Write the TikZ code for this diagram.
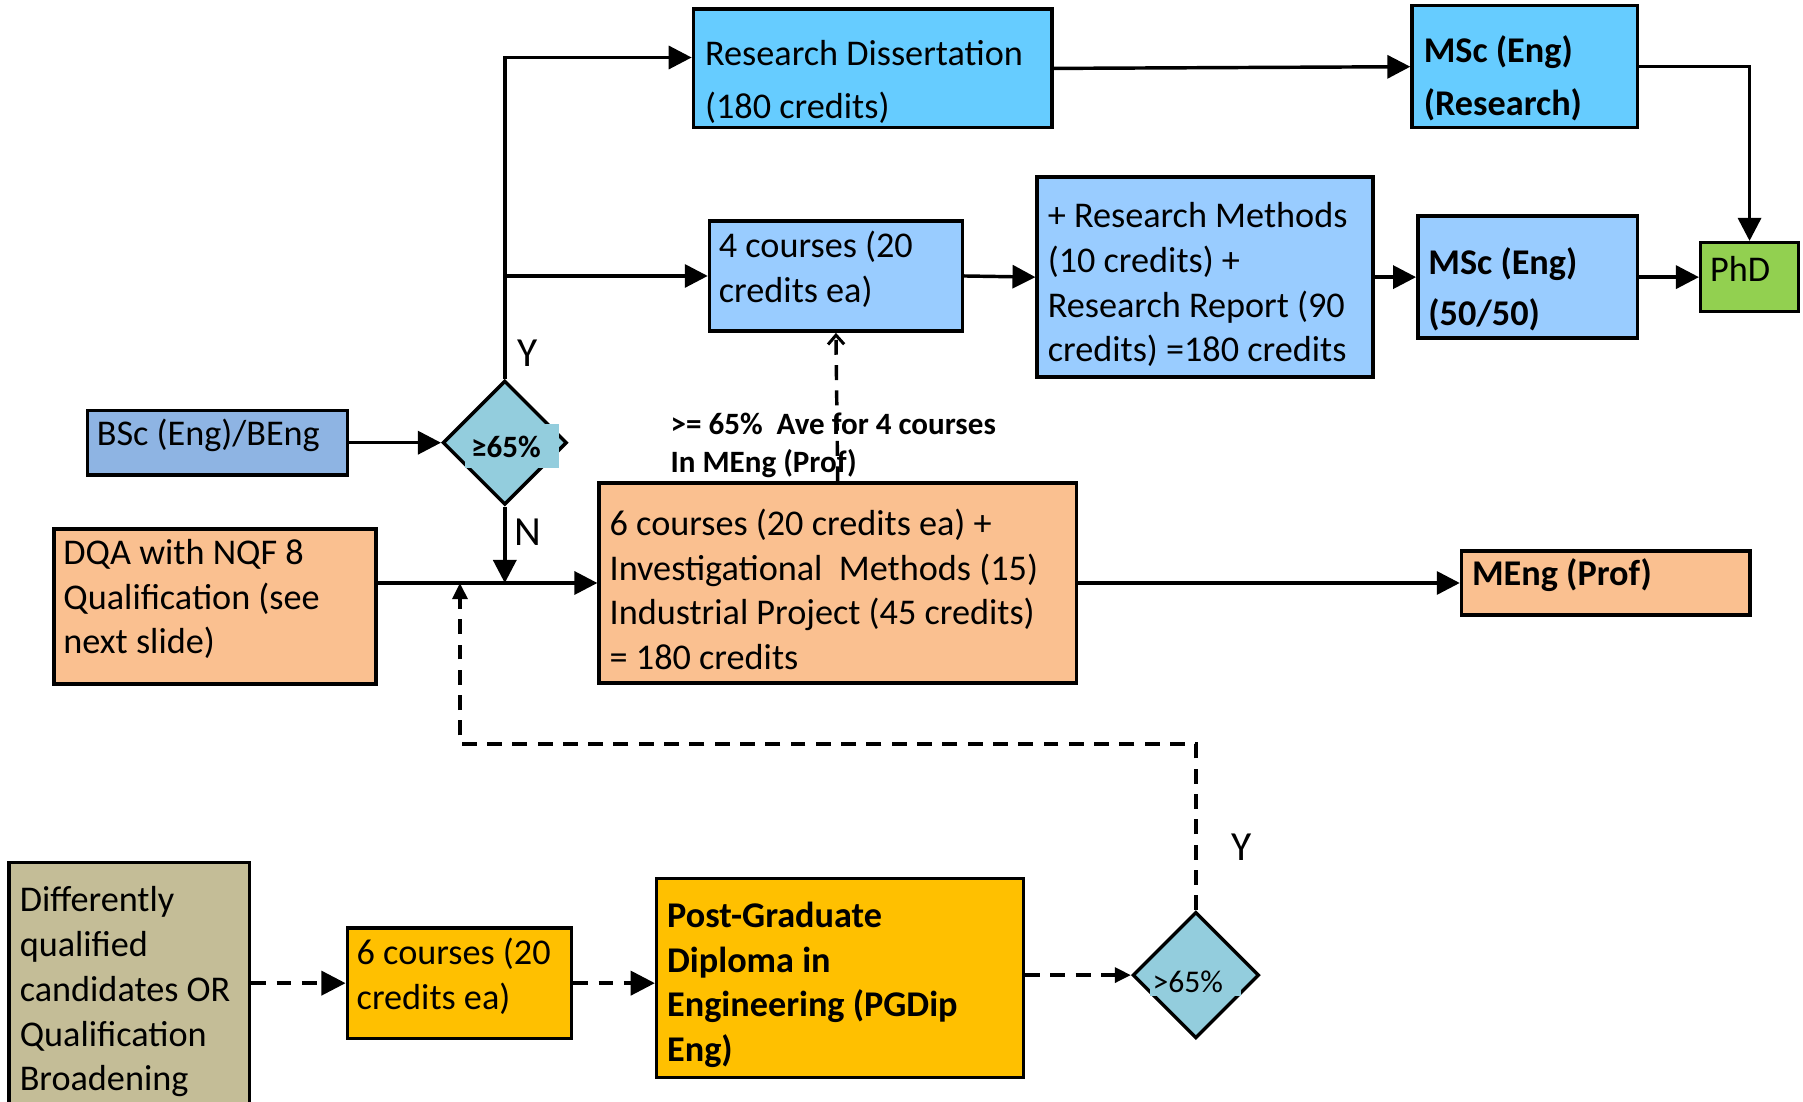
\documentclass[tikz,border=0pt]{standalone}
\usepackage{fontspec}
\setmainfont{Carlito}
\usetikzlibrary{arrows.meta,shapes.geometric,calc}
\definecolor{rdblue}{HTML}{66CCFF}
\definecolor{lblue}{HTML}{99CCFF}
\definecolor{bscblue}{HTML}{8EB4E3}
\definecolor{dia}{HTML}{93CDDD}
\definecolor{peach}{HTML}{FAC090}
\definecolor{phdgreen}{HTML}{92D050}
\definecolor{tan}{HTML}{C4BD97}
\definecolor{gold}{HTML}{FFC000}
\begin{document}
\begin{tikzpicture}[x=1pt,y=-1pt,
  box/.style={draw=black,line width=3pt,rectangle,inner sep=0pt},
  dbox/.style={draw=black,line width=3pt,diamond,inner sep=0pt,shape aspect=1,fill=dia},
  txt/.style={anchor=west,align=left,inner sep=0pt,font=\fontsize{31.5}{39}\selectfont},
  txtw/.style={txt,font=\fontsize{31.5}{46}\selectfont},
  btxt/.style={txt,font=\fontsize{31.5}{46}\selectfont\bfseries},
  yn/.style={inner sep=0pt,font=\fontsize{36}{40}\selectfont},
  conn/.style={line width=3pt},
  arr/.style={conn,-{Triangle[length=20pt,width=20pt]}},
  darr/.style={conn,dash pattern=on 13pt off 9pt,-{Triangle[length=21pt,width=21pt]}},
  dsarr/.style={conn,dash pattern=on 13pt off 9pt,-{Triangle[length=14pt,width=13pt]}},
  dvarr/.style={conn,dash pattern=on 13pt off 9pt,-{Straight Barb[length=8pt,width=14pt,line width=2.6pt]}}
]
\clip (0,0) rectangle (1568,958);
\fill[white] (0,0) rectangle (1568,958);

% boxes
\node[box,fill=rdblue,minimum width=312pt,minimum height=103pt] (rd) at (759,59.5) {};
\node[box,fill=rdblue,minimum width=196pt,minimum height=106pt] (mscr) at (1326,58) {};
\node[box,fill=lblue,minimum width=220pt,minimum height=96pt] (c4) at (727,240) {};
\node[box,fill=lblue,minimum width=292pt,minimum height=174pt] (rm) at (1048,241) {};
\node[box,fill=lblue,minimum width=191pt,minimum height=106pt] (msc50) at (1328.5,241) {};
\node[box,fill=phdgreen,minimum width=85pt,minimum height=60pt] (phd) at (1521.5,241) {};
\node[box,fill=bscblue,minimum width=226pt,minimum height=56pt] (bsc) at (189,385) {};
\node[dbox,minimum width=108pt,minimum height=108pt] (d1) at (439,385) {};
\node[box,fill=peach,minimum width=280pt,minimum height=135pt] (dqa) at (187,527.5) {};
\node[box,fill=peach,minimum width=415pt,minimum height=174pt] (c6) at (728.5,507) {};
\node[box,fill=peach,minimum width=251pt,minimum height=56pt] (meng) at (1396.5,507) {};
\node[box,fill=tan,minimum width=209pt,minimum height=225pt] (diff) at (112.5,862.5) {};
\node[box,fill=gold,minimum width=195pt,minimum height=96pt] (s6) at (399.5,855) {};
\node[box,fill=gold,minimum width=319pt,minimum height=173pt] (pg) at (730.5,850.5) {};
\node[dbox,minimum width=110pt,minimum height=110pt] (d2) at (1040,848) {};

% texts
\node[txtw] (rdt) at (613,71) {Research Dissertation\\(180 credits)};
\node[btxt] (mscrt) at (1238,68) {MSc (Eng)\\(Research)};
\node[txt] (c4t) at (625,234.5) {4 courses (20\\credits ea)};
\node[txt] (rmt) at (911,247.5) {+ Research Methods\\(10 credits) +\\Research Report (90\\credits) =180 credits};
\node[btxt,font=\fontsize{31.5}{45}\selectfont\bfseries] (msc50t) at (1242,251.5) {MSc (Eng)\\(50/50)};
\node[txt] (phdt) at (1487,234) {PhD};
\node[txt] (bsct) at (84,379) {BSc (Eng)/BEng};
\node[txt] (dqat) at (55,521) {DQA with NQF 8\\Qualification (see\\next slide)};
\node[txt] (c6t) at (530,512.5) {6 courses (20 credits ea) +\\Investigational~ Methods (15)\\Industrial Project (45 credits)\\= 180 credits};
\node[txt,font=\fontsize{31.5}{39}\selectfont\bfseries] (mengt) at (1280,500) {MEng (Prof)};
\node[txt] (difft) at (17,862.5) {Differently\\qualified\\candidates OR\\Qualification\\Broadening};
\node[txt] (s6t) at (310,849) {6 courses (20\\credits ea)};
\node[txt,font=\fontsize{31.5}{39}\selectfont\bfseries] (pgt) at (580,856.5) {Post-Graduate\\Diploma in\\Engineering (PGDip\\Eng)};

% diamond labels (text boxes filled with the diamond colour)
\fill[dia] (404,369) rectangle (486,407);
\node[inner sep=0pt,font=\fontsize{27}{30}\selectfont\bfseries] (d1t) at (440,389) {≥65\%};
\fill[dia] (1000,841) rectangle (1079,866);
\node[inner sep=0pt,font=\fontsize{27.5}{30}\selectfont] (d2t) at (1033,854) {>65\%};

% Y / N labels
\node[yn] (ylab) at (459,307) {Y};
\node[yn] (nlab) at (459,463) {N};
\node[yn] (ylab2) at (1080,737) {Y};

% connectors
\draw[arr] (bsc.east) -- (d1.west);
\draw[arr] (d1.north) |- ([yshift=9.5pt]rd.west);
\draw[arr] (d1.north |- c4.west) -- (c4.west);
\draw[arr] (c4.east) -- (rm.west);
\draw[arr] (rm.east) -- (msc50.west);
\draw[arr] (msc50.east) -- (phd.west);
\draw[arr] (rd.east) -- (mscr.west);
\draw[arr] (mscr.east) -| (phd.north);
\coordinate (nj) at (d1.south |- c6.west);
\draw[arr] (d1.south) -- (nj);
\draw[arr] (dqa.east |- c6.west) -- (c6.west);
\draw[arr] (c6.east) -- (meng.west);
\draw[dvarr] (c6.north) -- (c4.south);
\coordinate (m1) at (400,507);
\draw[dsarr] (d2.north) |- (400,647) -- (m1);
\draw[darr] (diff.east |- s6.west) -- (s6.west);
\draw[darr] (s6.east) -- (pg.west |- s6.east);
\draw[dsarr] (pg.east |- d2.west) -- (d2.west);

% bold label (drawn over the dashed line)
\node[anchor=west,align=left,inner sep=0pt,font=\fontsize{27}{33}\selectfont\bfseries] (avelab) at (583,387) {>= 65\%~ Ave for 4 courses\\In MEng (Prof)};
\end{tikzpicture}
\end{document}
